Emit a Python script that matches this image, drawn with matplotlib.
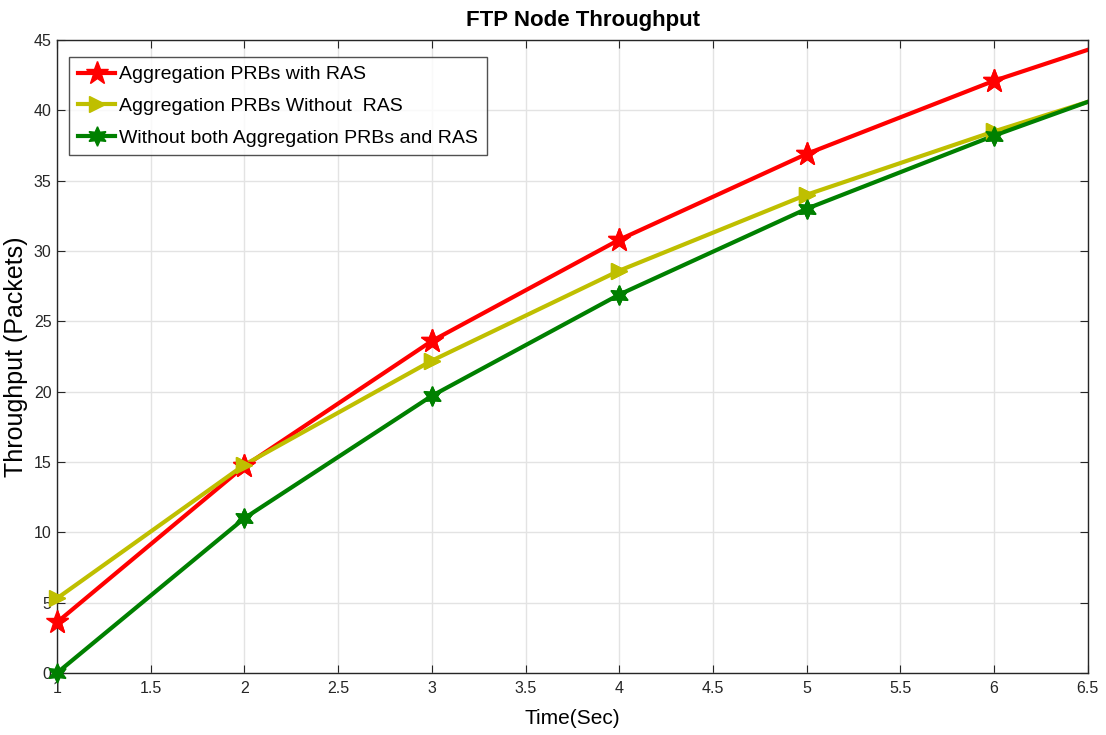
import numpy as np
import matplotlib.pyplot as plt
from matplotlib.ticker import MultipleLocator

plt.rcParams['font.family'] = ['Liberation Sans Narrow', 'Liberation Sans', 'DejaVu Sans']

# Dados
time_sec = [1, 2, 3, 4, 5, 6, 7]
with_ras = [3.6, 14.7, 23.6, 30.8, 36.9, 42.1, 46.5]
without_ras = [5.3, 14.8, 22.2, 28.6, 34.0, 38.5, 42.7]
without_both = [0.0, 11.0, 19.7, 26.9, 33.0, 38.2, 43.0]

series = [
    (with_ras, '#ff0000', '*', 17, 'Aggregation PRBs with RAS'),
    (without_ras, '#bfbf00', '>', 12, 'Aggregation PRBs Without  RAS'),
    (without_both, '#008000', (6, 1, 0), 14, 'Without both Aggregation PRBs and RAS'),
]

fig = plt.figure(figsize=(11.06, 7.35), dpi=100)
ax = fig.add_axes([0.0515, 0.0844, 0.932, 0.8612])

xmax = 6.5
for ys, col, mk, ms, lab in series:
    ax.plot(time_sec, ys, color=col, lw=3, marker=mk, ms=ms, label=lab)
    # marcadores sem recorte (como no MATLAB)
    xs = [x for x in time_sec if x <= xmax]
    ax.plot(xs, ys[:len(xs)], ls='none', color=col, marker=mk, ms=ms,
            clip_on=False, zorder=3)

ax.set_xlim(1, xmax)
ax.set_ylim(0, 45)
ax.xaxis.set_major_locator(MultipleLocator(0.5))
ax.yaxis.set_major_locator(MultipleLocator(5))
ax.xaxis.set_major_formatter(plt.FuncFormatter(lambda v, p: f'{v:g}'))
ax.grid(True, color='#e3e3e3', lw=1)
ax.set_axisbelow(True)
ax.tick_params(direction='in', length=6, top=True, right=True, labelsize=11.5,
               colors='#262626', pad=6)
ax.tick_params(axis='y', pad=4)
for s in ax.spines.values():
    s.set_color('#262626')
    s.set_linewidth(1)

ax.set_title('FTP Node Throughput', fontsize=16, fontweight='bold', pad=10, x=0.51)
ax.set_xlabel('Time(Sec)', fontsize=15, labelpad=9)
ax.set_ylabel('Throughput (Packets)', fontsize=18, labelpad=4)

leg = ax.legend(loc='upper left', bbox_to_anchor=(0.012, 0.973), fontsize=14,
                frameon=True, fancybox=False, edgecolor='#262626',
                handlelength=1.9, handletextpad=0.2, borderpad=0.45,
                labelspacing=0.72, borderaxespad=0)
leg.get_frame().set_linewidth(1)

fig.savefig('out.png', dpi=100)
